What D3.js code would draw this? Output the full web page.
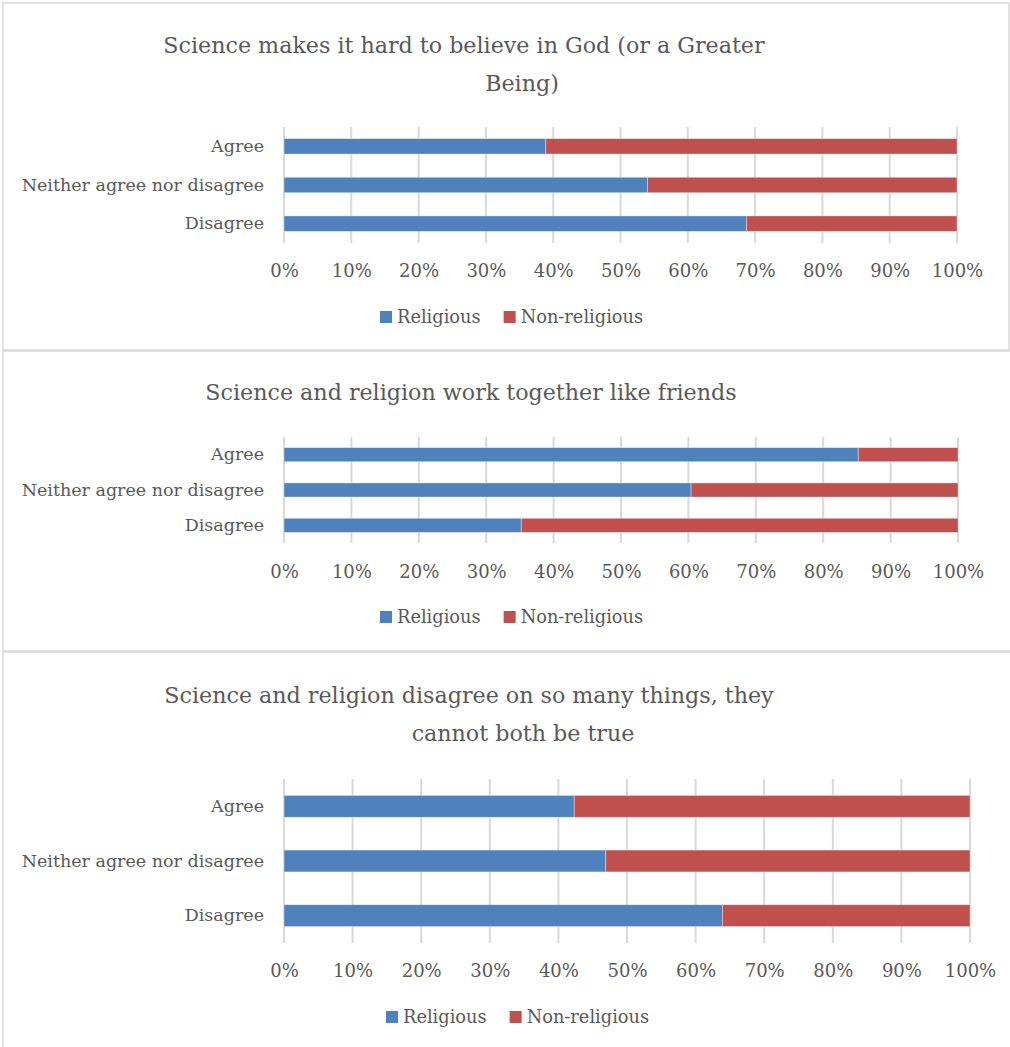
<!DOCTYPE html>
<html>
<head>
<meta charset="utf-8">
<script src="https://cdn.jsdelivr.net/npm/d3@7"></script>
<style>
  html, body { margin: 0; padding: 0; background: #fff; }
  svg text { font-family: "DejaVu Serif", "Liberation Serif", serif; fill: #595959; }
</style>
</head>
<body>
<svg id="chart" width="1010" height="1047"></svg>
<script>
// Data
const categories = ['Agree', 'Neither agree nor disagree', 'Disagree'];
const seriesNames = ['Religious', 'Non-religious'];
const tickValues = [0, 10, 20, 30, 40, 50, 60, 70, 80, 90, 100];
const tickLabels = ['0%', '10%', '20%', '30%', '40%', '50%', '60%', '70%', '80%', '90%', '100%'];

const titleHardToBelieve = ['Science makes it hard to believe in God (or a Greater', 'Being)'];
const religiousHardToBelieve = [38.9, 54.0, 68.7];
const nonReligiousHardToBelieve = [61.1, 46.0, 31.3];

const titleFriends = ['Science and religion work together like friends'];
const religiousFriends = [85.2, 60.4, 35.2];
const nonReligiousFriends = [14.8, 39.6, 64.8];

const titleCannotBoth = ['Science and religion disagree on so many things, they', 'cannot both be true'];
const religiousCannotBoth = [42.3, 46.9, 63.9];
const nonReligiousCannotBoth = [57.7, 53.1, 36.1];

const colors = ['#4F81BD', '#C0504D'];

const svg = d3.select('#chart');

// Panel layouts (frame, plot area, text positions)
const panels = [
  {
    title: titleHardToBelieve, titleX: [464, 522], titleY: [45, 83],
    values: [religiousHardToBelieve, nonReligiousHardToBelieve],
    frame: { x: 3, y: 3, w: 1006, h: 347 },
    plot: { x0: 284, x1: 957, y0: 127, y1: 243 },
    tickY: 271, legendY: 317, legendX: 380
  },
  {
    title: titleFriends, titleX: [471], titleY: [392],
    values: [religiousFriends, nonReligiousFriends],
    frame: { x: 3, y: 351, w: 1030, h: 300 },
    plot: { x0: 284, x1: 958, y0: 437, y1: 543 },
    tickY: 572, legendY: 617, legendX: 380
  },
  {
    title: titleCannotBoth, titleX: [469, 523], titleY: [695, 733],
    values: [religiousCannotBoth, nonReligiousCannotBoth],
    frame: { x: 3, y: 652, w: 1030, h: 420 },
    plot: { x0: 284, x1: 970, y0: 779, y1: 943 },
    tickY: 971, legendY: 1017, legendX: 386
  }
];

panels.forEach(drawPanel);

function drawPanel(p) {
  const g = svg.append('g');

  // Chart frame
  g.append('rect')
    .attr('x', p.frame.x)
    .attr('y', p.frame.y)
    .attr('width', p.frame.w)
    .attr('height', p.frame.h)
    .attr('fill', '#fff')
    .attr('stroke', '#d9d9d9')
    .attr('stroke-width', 1.5);

  // Title lines
  g.selectAll('.title')
    .data(p.title)
    .enter().append('text')
    .attr('class', 'title')
    .attr('x', (d, i) => p.titleX[i])
    .attr('y', (d, i) => p.titleY[i])
    .attr('dy', '0.35em')
    .attr('text-anchor', 'middle')
    .style('font-size', '22.2px')
    .text(d => d);

  const x = d3.scaleLinear().domain([0, 100]).range([p.plot.x0, p.plot.x1]);
  const y = d3.scaleBand().domain(categories).range([p.plot.y0, p.plot.y1]).paddingInner(0.6).paddingOuter(0.3);

  // Vertical gridlines
  g.append('g')
    .selectAll('line')
    .data(tickValues)
    .enter().append('line')
    .attr('x1', d => x(d))
    .attr('x2', d => x(d))
    .attr('y1', p.plot.y0)
    .attr('y2', p.plot.y1)
    .attr('stroke', '#d9d9d9')
    .attr('stroke-width', 2);

  // Stacked bars
  const rows = categories.map((c, i) => {
    const row = { category: c };
    seriesNames.forEach((s, k) => { row[s] = p.values[k][i]; });
    return row;
  });
  const stacked = d3.stack().keys(seriesNames)(rows);

  g.append('g')
    .selectAll('g')
    .data(stacked)
    .enter().append('g')
    .attr('fill', (d, i) => colors[i])
    .selectAll('rect')
    .data(d => d)
    .enter().append('rect')
    .attr('x', d => x(d[0]))
    .attr('y', d => y(d.data.category))
    .attr('width', d => x(d[1]) - x(d[0]))
    .attr('height', y.bandwidth())
    .attr('stroke', 'rgba(255,255,255,0.5)')
    .attr('stroke-width', 0.75);

  // Category axis labels
  const yAxis = g.append('g')
    .attr('transform', `translate(${p.plot.x0 - 20},0)`)
    .call(d3.axisLeft(y).tickSize(0).tickPadding(0));
  yAxis.select('.domain').remove();
  yAxis.selectAll('text')
    .attr('x', 0)
    .style('font-size', '17.5px')
    .attr('fill', '#595959');

  // Percentage axis labels
  const xAxis = g.append('g')
    .attr('transform', `translate(0,${p.tickY})`)
    .call(d3.axisBottom(x).tickValues(tickValues).tickFormat((d, i) => tickLabels[i]).tickSize(0).tickPadding(0));
  xAxis.select('.domain').remove();
  xAxis.selectAll('text')
    .attr('y', 0)
    .attr('dy', '0.35em')
    .style('font-size', '18px')
    .attr('fill', '#595959');

  // Legend
  const legend = g.append('g').attr('transform', `translate(${p.legendX},${p.legendY})`);
  let offset = 0;
  seriesNames.forEach((s, i) => {
    const item = legend.append('g').attr('transform', `translate(${offset},0)`);
    item.append('rect')
      .attr('x', 0)
      .attr('y', -6)
      .attr('width', 12)
      .attr('height', 12)
      .attr('fill', colors[i]);
    const t = item.append('text')
      .attr('x', 17)
      .attr('y', 0)
      .attr('dy', '0.35em')
      .style('font-size', '17.8px')
      .text(s);
    offset += 17 + t.node().getComputedTextLength() + 23;
  });
}
</script>
</body>
</html>
